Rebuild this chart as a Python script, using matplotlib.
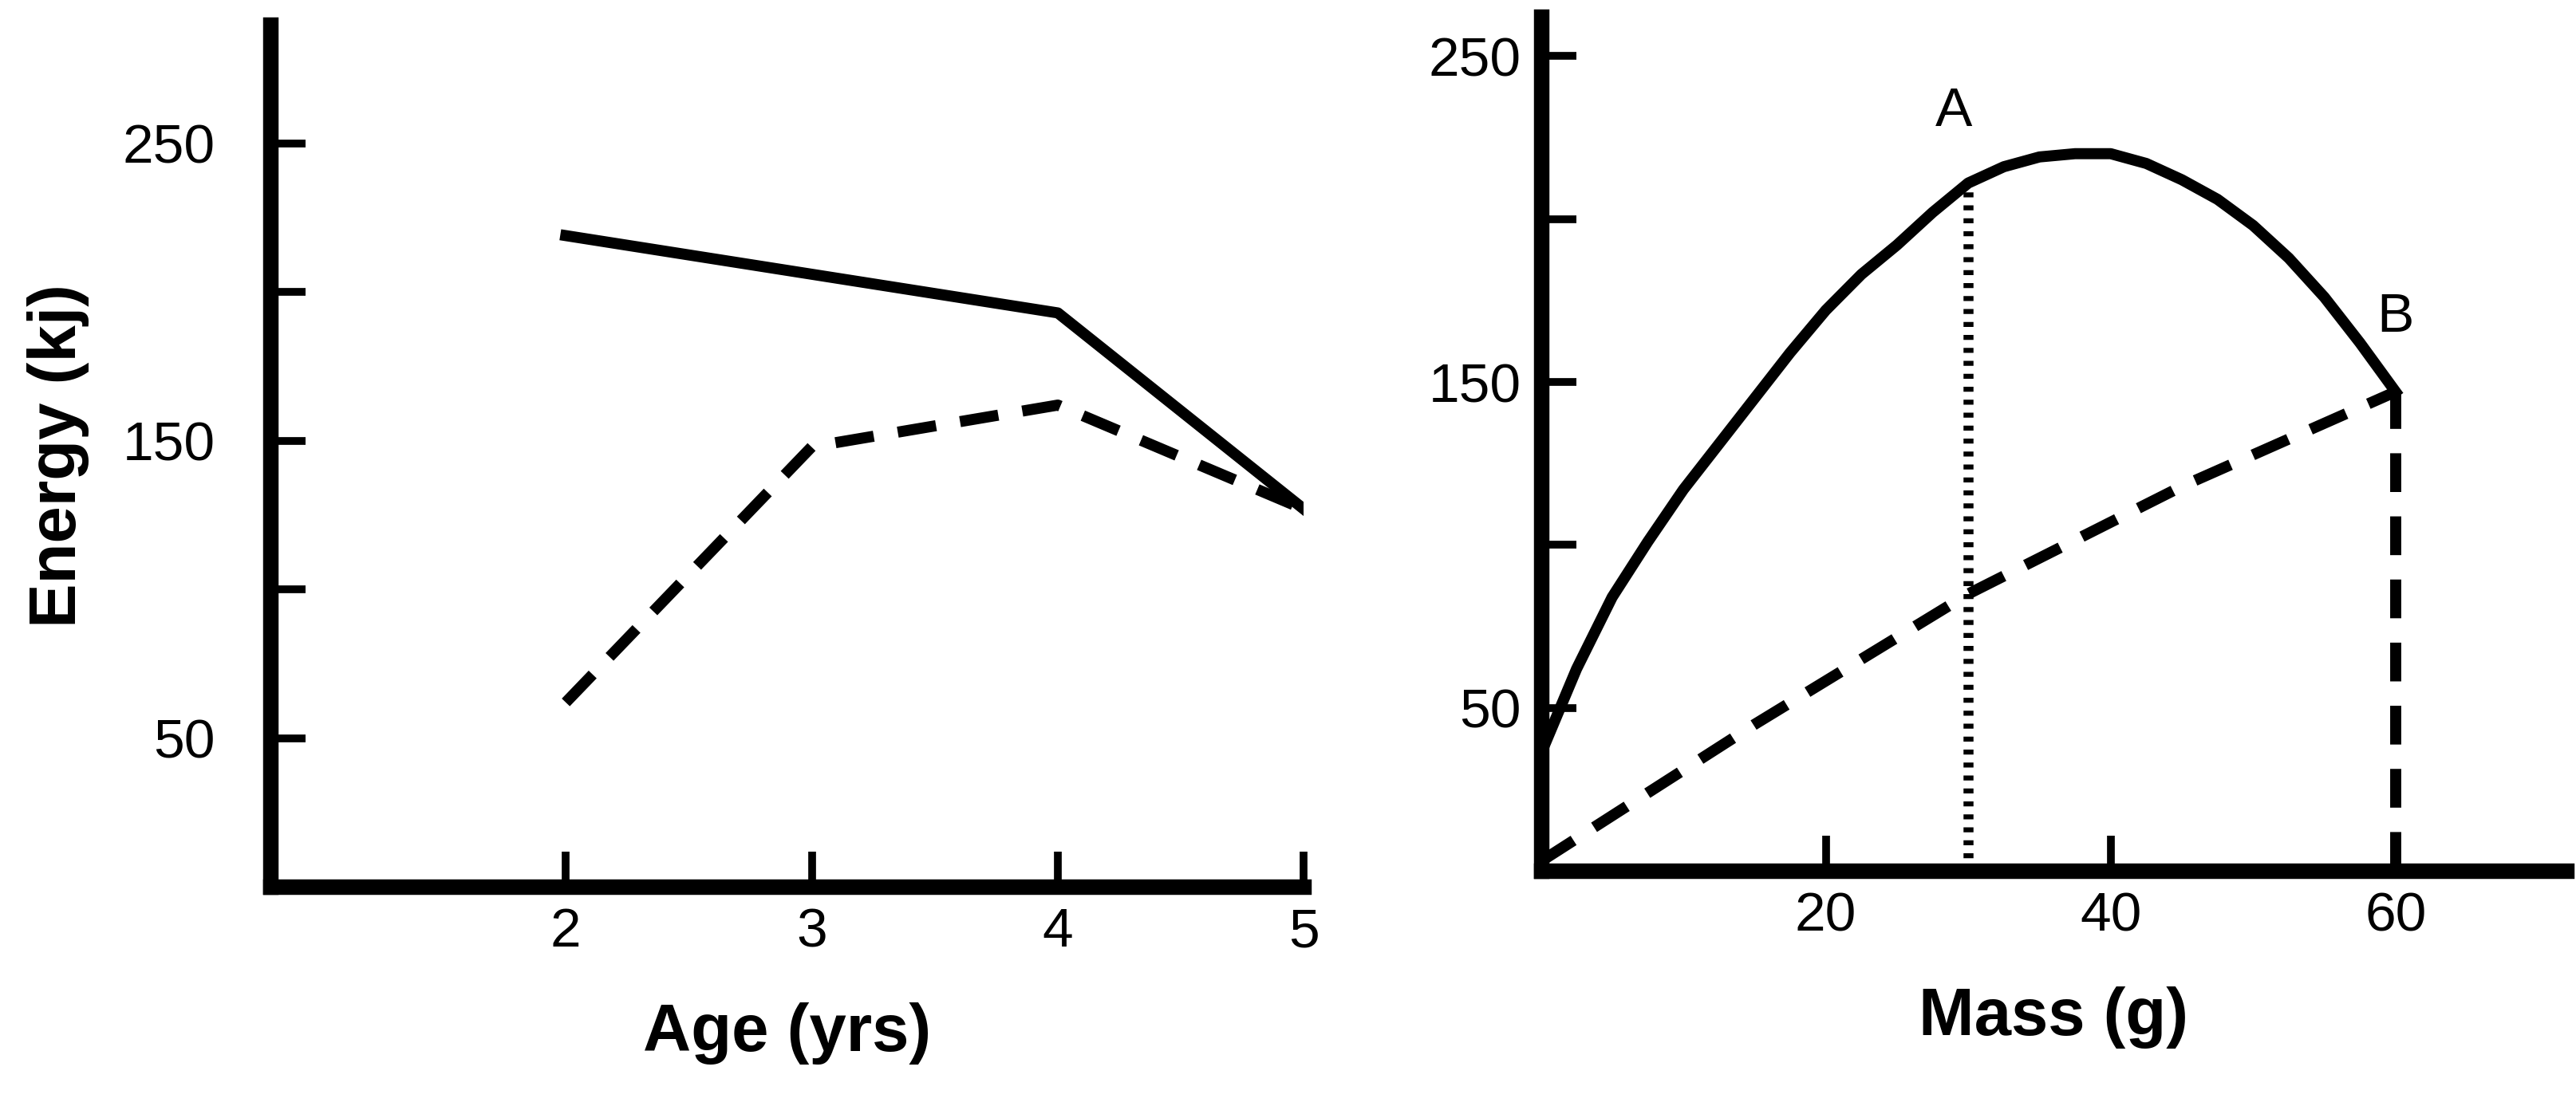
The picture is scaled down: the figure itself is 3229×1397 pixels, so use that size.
import matplotlib
matplotlib.use('Agg')
import matplotlib.pyplot as plt

# left panel: energy vs age
age = [2, 3, 4, 5]
age_solid = [219, 206, 193, 127]
age_dashed = [62, 148, 162, 127]

# right panel: energy vs mass
mass = [0, 2.5, 5, 7.5, 10, 12.5, 15, 17.5, 20, 22.5, 25, 27.5, 30, 32.5, 35,
        37.5, 40, 42.5, 45, 47.5, 50, 52.5, 55, 57.5, 60]
mass_solid = [36, 62, 84, 101, 117, 131, 145, 159, 172, 183, 192, 202, 211, 216, 219,
              220, 220, 217, 212, 206, 198, 188, 176, 162, 147]
mass_dash_x = [0, 15, 30, 45, 60]
mass_dash_y = [3, 45, 85, 118, 147]
point_a = (30, 211)
point_b = (60, 147)

plt.rcParams.update({'font.family': 'Liberation Sans', 'font.size': 50})
fig = plt.figure(figsize=(32.3, 13.97), dpi=100)

ax1 = fig.add_axes([0.105, 0.204, 0.401, 0.774])
ax2 = fig.add_axes([0.598, 0.218, 0.398, 0.767])

for ax in (ax1, ax2):
    for s in ('top', 'right'):
        ax.spines[s].set_visible(False)
    for s in ('left', 'bottom'):
        ax.spines[s].set_linewidth(14)
    ax.tick_params(direction='in', length=32, width=7, pad=18, labelsize=50)

dash = (0, (3.5, 2.2))
ax1.plot(age, age_solid, color='black', lw=10)
ax1.plot(age, age_dashed, color='black', lw=10, ls=dash)
ax1.set_xlim(0.8, 5.0)
ax1.set_ylim(0, 290)
ax1.set_xticks(age)
ax1.set_yticks([50, 100, 150, 200, 250])
ax1.set_yticklabels(['50', '', '150', '', '250'])
ax1.tick_params(axis='y', pad=50)
ax1.set_xlabel('Age (yrs)', fontsize=60, fontweight='bold', labelpad=40)
ax1.set_ylabel('Energy (kj)', fontsize=60, fontweight='bold', labelpad=30)

ax2.plot(mass, mass_solid, color='black', lw=10)
ax2.plot(mass_dash_x, mass_dash_y, color='black', lw=10, ls=dash)
ax2.plot([point_a[0]] * 2, [0, point_a[1]], color='black', lw=9, ls=(0, (0.5, 0.8)))
ax2.plot([point_b[0]] * 2, [0, point_b[1]], color='black', lw=10, ls=dash)
ax2.text(29, 225, 'A', fontsize=50, ha='center', va='bottom')
ax2.text(60, 162, 'B', fontsize=50, ha='center', va='bottom')
ax2.set_xlim(0, 72)
ax2.set_ylim(0, 262)
ax2.set_xticks([20, 40, 60])
ax2.set_yticks([50, 100, 150, 200, 250])
ax2.set_yticklabels(['50', '', '150', '', '250'])
ax2.tick_params(axis='y', pad=18)
ax2.set_xlabel('Mass (g)', fontsize=60, fontweight='bold', labelpad=40)

fig.savefig('out.png', dpi=100)
